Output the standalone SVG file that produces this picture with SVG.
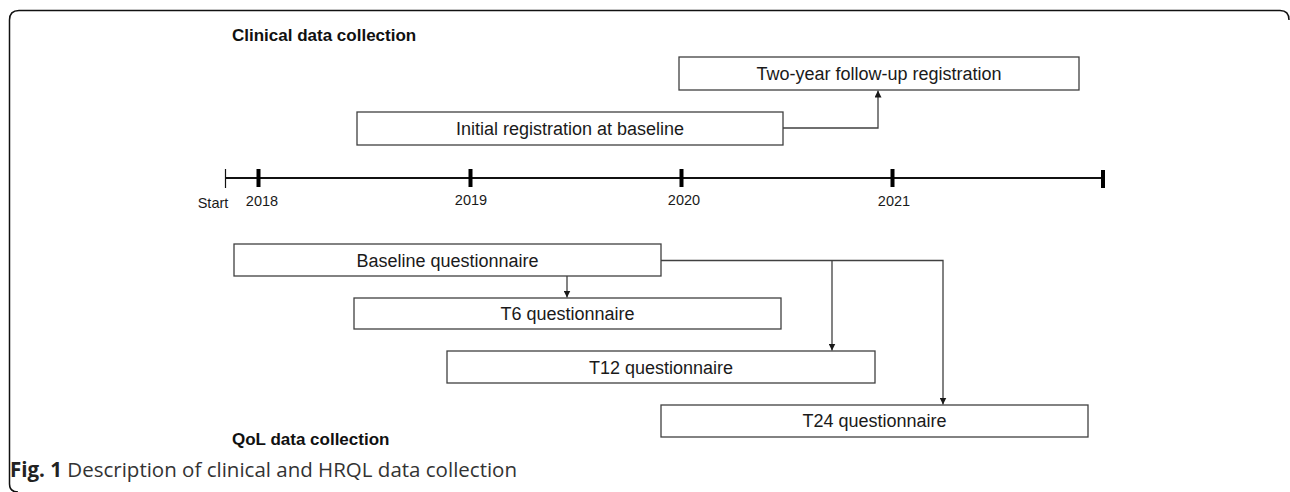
<svg xmlns="http://www.w3.org/2000/svg" width="1290" height="492" viewBox="0 0 1290 492">
  <defs>
    <marker id="arr" viewBox="0 0 10 10" refX="10" refY="5" markerWidth="7" markerHeight="7" markerUnits="userSpaceOnUse" orient="auto">
      <path d="M0,0 L10,5 L0,10 z" fill="#1a1a1a"/>
    </marker>
    <style>
      .box { fill: #ffffff; stroke: #404040; stroke-width: 1.3; }
      .bt { font-family: "Liberation Sans", Arial, sans-serif; font-size: 18px; fill: #1a1a1a; text-anchor: middle; }
      .hd { font-family: "Liberation Sans", Arial, sans-serif; font-size: 17px; font-weight: bold; fill: #111111; }
      .yr { font-family: "Liberation Sans", Arial, sans-serif; font-size: 14.5px; fill: #1a1a1a; text-anchor: middle; }
      .conn { fill: none; stroke: #404040; stroke-width: 1.3; }
      .cap { font-family: "Open Sans", "Liberation Sans", sans-serif; font-size: 20.5px; fill: #333333; }
    </style>
  </defs>
  <rect width="1290" height="492" fill="#ffffff"/>
  <path d="M18,492 Q9.5,492 9.5,484 L9.5,20 Q9.5,10.5 19,10.5 L1280,10.5 Q1289,10.5 1289,20" fill="none" stroke="#111111" stroke-width="1.5"/>

  <text class="hd" x="232" y="41">Clinical data collection</text>
  <text class="hd" x="232" y="445">QoL data collection</text>

  <g id="timeline">
    <line x1="225" y1="178" x2="1103" y2="178" stroke="#111111" stroke-width="2"/>
    <line x1="225.5" y1="169" x2="225.5" y2="188" stroke="#111111" stroke-width="1.2"/>
    <rect x="256.5" y="169" width="4" height="18" fill="#000"/>
    <rect x="468.5" y="169" width="4" height="18" fill="#000"/>
    <rect x="679.5" y="169" width="4" height="18" fill="#000"/>
    <rect x="890.5" y="169" width="4" height="18" fill="#000"/>
    <rect x="1101" y="170" width="4" height="18" fill="#000"/>
    <text class="yr" x="213" y="208">Start</text>
    <text class="yr" x="262" y="206">2018</text>
    <text class="yr" x="471" y="205">2019</text>
    <text class="yr" x="684" y="205">2020</text>
    <text class="yr" x="894" y="206">2021</text>
  </g>

  <g id="followup">
    <rect class="box" x="679" y="57" width="400" height="33"/>
    <text class="bt" x="879" y="80">Two-year follow-up registration</text>
  </g>
  <g id="initial">
    <rect class="box" x="357" y="112" width="426" height="33"/>
    <text class="bt" x="570" y="134.5">Initial registration at baseline</text>
  </g>
  <g id="baseline">
    <rect class="box" x="234" y="244" width="427" height="32"/>
    <text class="bt" x="447.5" y="266.5">Baseline questionnaire</text>
  </g>
  <g id="t6">
    <rect class="box" x="354" y="298" width="427" height="31"/>
    <text class="bt" x="567.5" y="320">T6 questionnaire</text>
  </g>
  <g id="t12">
    <rect class="box" x="447" y="351" width="428" height="32"/>
    <text class="bt" x="661" y="373.5">T12 questionnaire</text>
  </g>
  <g id="t24">
    <rect class="box" x="661" y="405" width="427" height="32"/>
    <text class="bt" x="874.5" y="427">T24 questionnaire</text>
  </g>

  <g id="connectors">
    <polyline class="conn" points="783,128 878,128 878,90.5" marker-end="url(#arr)"/>
    <line class="conn" x1="567" y1="276" x2="567" y2="297.5" marker-end="url(#arr)"/>
    <polyline class="conn" points="661,260.5 943,260.5 943,404.5" marker-end="url(#arr)"/>
    <line class="conn" x1="832" y1="260.5" x2="832" y2="350.5" marker-end="url(#arr)"/>
  </g>

  <text class="cap" x="10" y="477"><tspan font-weight="bold" fill="#222222">Fig. 1</tspan> Description of clinical and HRQL data collection</text>
</svg>
